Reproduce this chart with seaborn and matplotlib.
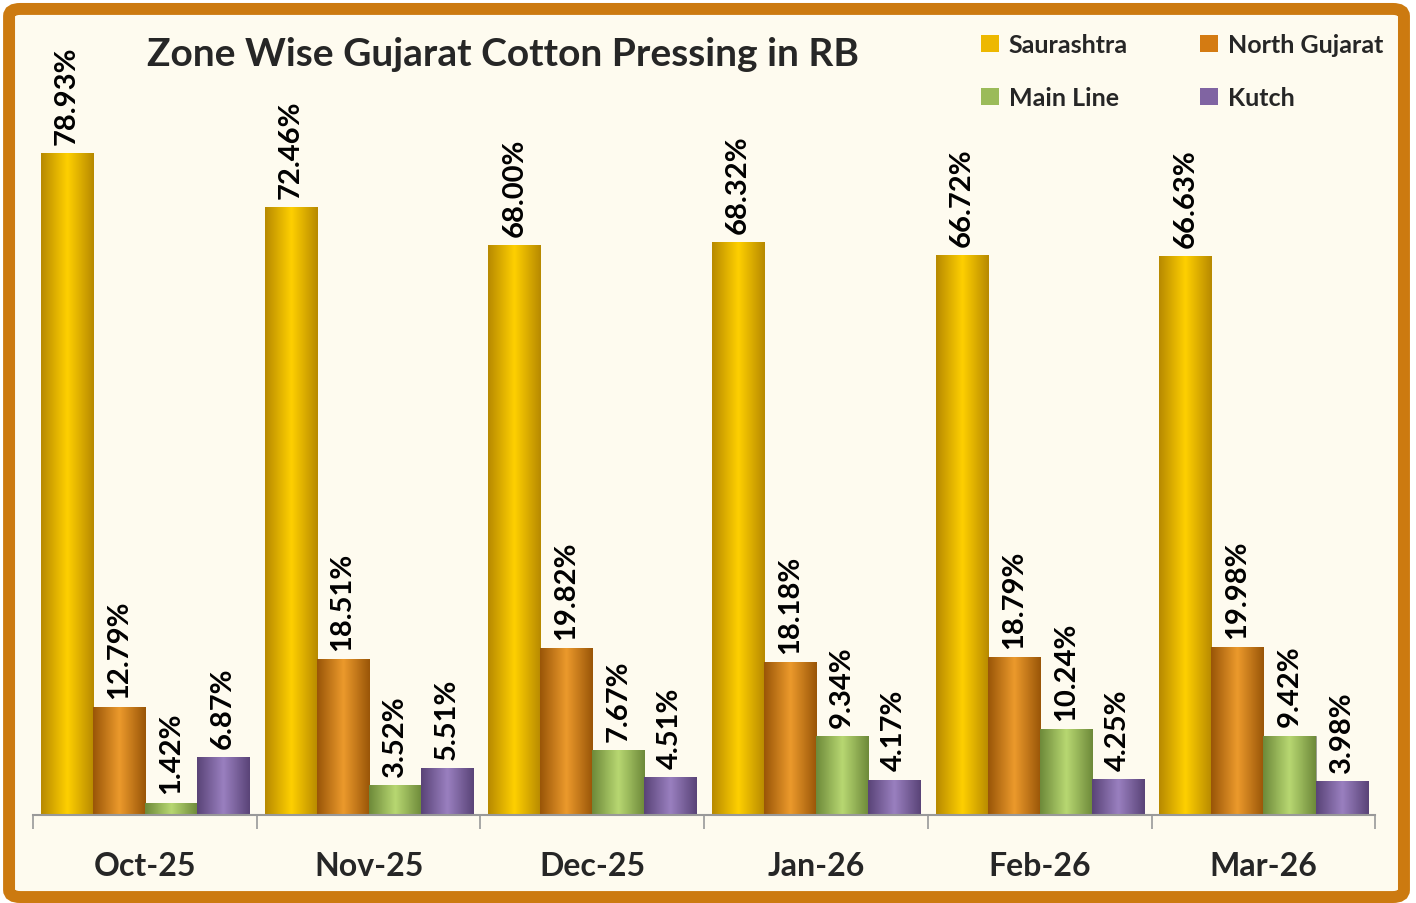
import numpy as np
import pandas as pd
import seaborn as sns
import matplotlib.pyplot as plt
from matplotlib.patches import Patch, FancyBboxPatch
from matplotlib.colors import LinearSegmentedColormap

# Data
months = ["Oct-25", "Nov-25", "Dec-25", "Jan-26", "Feb-26", "Mar-26"]
zones = ["Saurashtra", "North Gujarat", "Main Line", "Kutch"]
saurashtra = [78.93, 72.46, 68.00, 68.32, 66.72, 66.63]
north_gujarat = [12.79, 18.51, 19.82, 18.18, 18.79, 19.98]
main_line = [1.42, 3.52, 7.67, 9.34, 10.24, 9.42]
kutch = [6.87, 5.51, 4.51, 4.17, 4.25, 3.98]

df = pd.DataFrame({
    "Month": months * 4,
    "Zone": [z for z in zones for _ in months],
    "Share": saurashtra + north_gujarat + main_line + kutch,
})

colors = ["#EDB800", "#D47B12", "#9BBB59", "#8064A2"]
dark = ["#B88A00", "#9A5608", "#6E8A3A", "#5A4478"]
light = ["#FFD000", "#EC9A2C", "#B8D872", "#9A80C0"]

sns.set_style("white")
plt.rcParams["font.family"] = ["Lato", "DejaVu Sans"]

fig = plt.figure(figsize=(14.16, 9.04), dpi=100, facecolor="white")
fig.patches.append(FancyBboxPatch(
    (0.0064, 0.0066), 0.9851, 0.9824,
    boxstyle="round,pad=0,rounding_size=0.008",
    transform=fig.transFigure, facecolor="#FEFBEF",
    edgecolor="#CC7A10", linewidth=8.6, zorder=-10))

ax = fig.add_axes([0.0233, 0.0973, 0.948, 0.8805])
ax.set_facecolor("none")

sns.barplot(data=df, x="Month", y="Share", hue="Zone", hue_order=zones,
            palette=colors, width=0.93, legend=False, ax=ax,
            edgecolor="#888888", linewidth=0.5)

# simple cylinder-like shading on each bar
for i, cont in enumerate(ax.containers):
    cmap = LinearSegmentedColormap.from_list("g", [dark[i], light[i], dark[i]])
    grad = np.linspace(0, 1, 64).reshape(1, -1)
    for bar in cont:
        x0, w, h = bar.get_x(), bar.get_width(), bar.get_height()
        ax.imshow(grad, cmap=cmap, extent=[x0, x0 + w, 0, h],
                  aspect="auto", zorder=2, interpolation="bicubic")
    ax.bar_label(cont, fmt="%.2f%%", rotation=90, padding=7,
                 fontsize=21, fontweight="bold", color="black")
ax.set_xlim(-0.5, 5.5)
ax.set_ylim(0, 95)

sns.despine(ax=ax, left=True)
ax.spines["bottom"].set_color("#999999")
ax.spines["bottom"].set_linewidth(1.5)
ax.set_yticks([])
ax.set_xlabel("")
ax.set_ylabel("")
ax.tick_params(axis="x", which="major", length=0, pad=26, labelsize=23)
for t in ax.get_xticklabels():
    t.set_fontweight("bold")
ax.set_xticks(np.arange(-0.5, 6, 1), minor=True)
ax.tick_params(axis="x", which="minor", bottom=True, length=10,
               color="#999999", width=1.2)

fig.text(0.104, 0.94, "Zone Wise Gujarat Cotton Pressing in RB",
         fontsize=28, fontweight="bold", ha="left", va="center")

handles = [Patch(facecolor=c, edgecolor="none") for c in colors]
order = [0, 2, 1, 3]
fig.legend([handles[k] for k in order], [zones[k] for k in order],
           loc="upper left", bbox_to_anchor=(0.684, 0.976), ncol=2,
           frameon=False, borderpad=0, handlelength=0.7, handleheight=0.7,
           handletextpad=0.4, columnspacing=2.9, labelspacing=1.2,
           prop={"weight": "bold", "size": 18})

fig.savefig("out.png", dpi=100, facecolor=fig.get_facecolor())
